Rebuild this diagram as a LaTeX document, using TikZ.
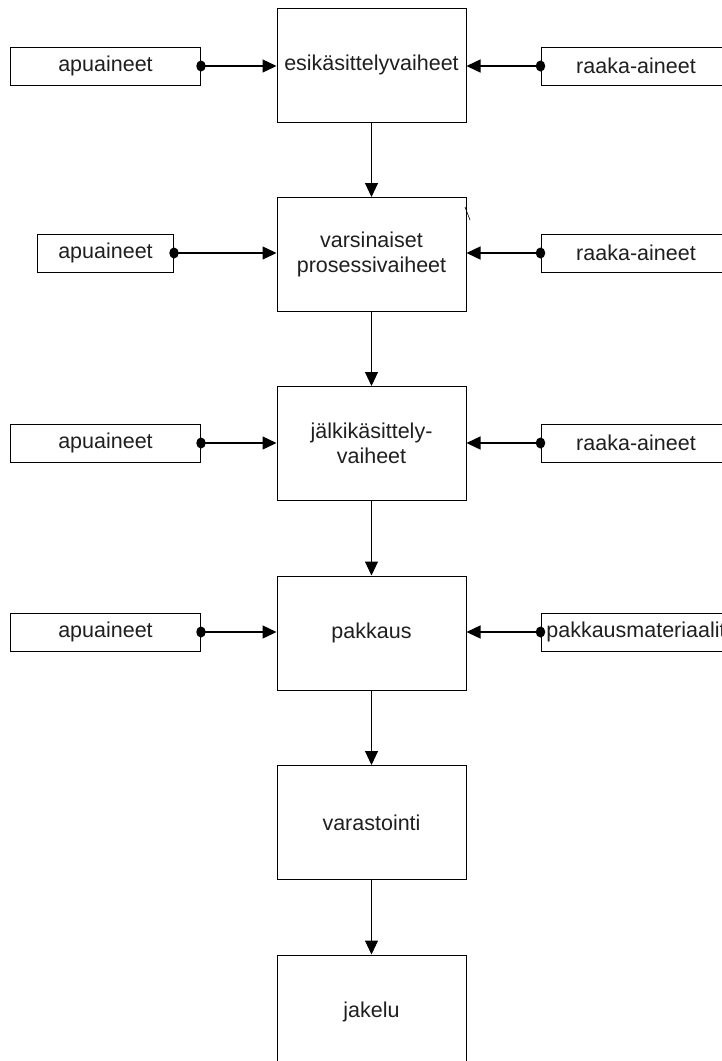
\documentclass[tikz,border=0pt]{standalone}
\usepackage{fontspec}
\setmainfont{Liberation Sans}
\usetikzlibrary{arrows.meta,shapes.geometric}
\begin{document}
\begin{tikzpicture}[x=1pt,y=-1pt,
  txt/.style={font=\fontsize{21.5}{24.5}\selectfont, text=black!88},
  mainbox/.style={draw, line width=1pt, minimum width=189pt, minimum height=114pt, align=center, inner sep=0pt, txt},
  sidebox/.style={draw, line width=1pt, minimum width=190pt, minimum height=38pt, inner sep=0pt, txt},
  flow/.style={line width=1pt, -{Triangle[length=14pt,width=13pt]}},
  feed/.style={line width=1.4pt, -{Triangle[length=14pt,width=13pt]}},
  dot/.style={fill, ellipse, inner sep=0pt, minimum width=9.5pt, minimum height=11pt}]
\useasboundingbox (0,0) rectangle (722,1061);
% main chain
\node[mainbox] (m1) at (371.5,65) {esikäsittelyvaiheet};
\node[mainbox] (m2) at (371.5,254.5) {varsinaiset\\prosessivaiheet};
\node[mainbox] (m3) at (371.5,443.5) {jälkikäsittely-\\vaiheet};
\node[mainbox] (m4) at (371.5,633) {pakkaus};
\node[mainbox] (m5) at (371.5,822.5) {varastointi};
\node[mainbox] (m6) at (371.5,1012) {jakelu};
% side boxes
\node[sidebox] (l1) at (105.5,66) {apuaineet};
\node[sidebox, minimum width=136pt] (l2) at (105.5,253) {apuaineet};
\node[sidebox] (l3) at (105.5,443) {apuaineet};
\node[sidebox] (l4) at (105.5,632) {apuaineet};
\node[sidebox] (r1) at (636,66) {raaka-aineet};
\node[sidebox] (r2) at (636,253) {raaka-aineet};
\node[sidebox] (r3) at (636,443) {raaka-aineet};
\node[sidebox] (r4) at (636,632) {pakkausmateriaalit};
% dots
\foreach \s in {l1,l2,l3,l4} {\node[dot] (\s d) at (\s.east) {};}
\foreach \s in {r1,r2,r3,r4} {\node[dot] (\s d) at (\s.west) {};}
% feeds
\draw[feed] (l1.east) -- (l1.east -| m1.west);
\draw[feed] (l2.east) -- (l2.east -| m2.west);
\draw[feed] (l3.east) -- (l3.east -| m3.west);
\draw[feed] (l4.east) -- (l4.east -| m4.west);
\draw[feed] (r1.west) -- (r1.west -| m1.east);
\draw[feed] (r2.west) -- (r2.west -| m2.east);
\draw[feed] (r3.west) -- (r3.west -| m3.east);
\draw[feed] (r4.west) -- (r4.west -| m4.east);
% chain
\draw[flow] (m1.south) -- (m2.north);
\draw[flow] (m2.south) -- (m3.north);
\draw[flow] (m3.south) -- (m4.north);
\draw[flow] (m4.south) -- (m5.north);
\draw[flow] (m5.south) -- (m6.north);
% small stray stroke
\draw[line width=0.6pt] (465,207) -- (470,220);
\end{tikzpicture}
\end{document}
